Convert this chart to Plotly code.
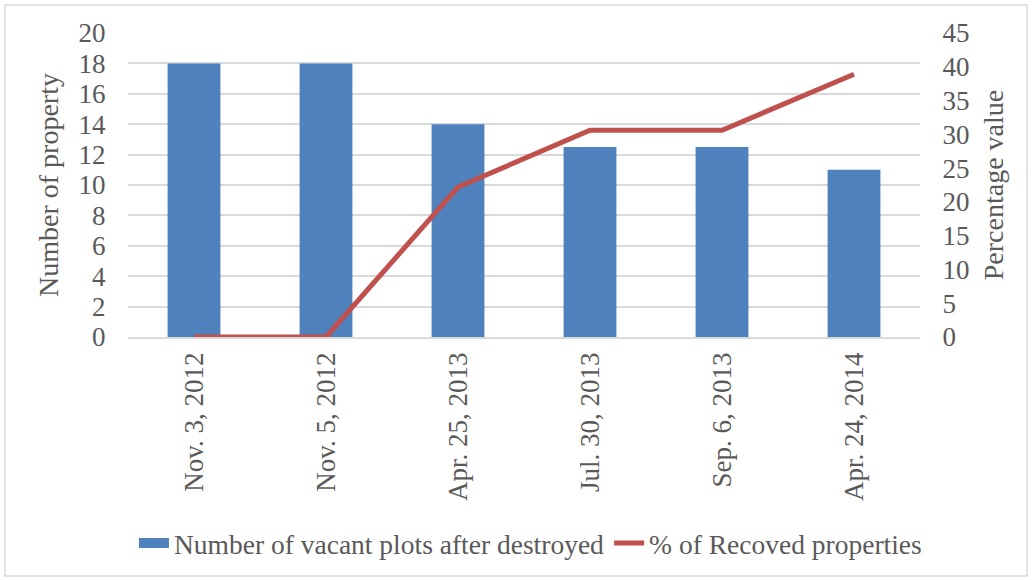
import plotly.graph_objects as go

categories = ["Nov. 3, 2012", "Nov. 5, 2012", "Apr. 25, 2013", "Jul. 30, 2013", "Sep. 6, 2013", "Apr. 24, 2014"]
vacant_plots = [18, 18, 14, 12.5, 12.5, 11]
recovered_pct = [0, 0, 22.2, 30.6, 30.6, 38.9]
left_ticks = list(range(0, 21, 2))
right_ticks = list(range(0, 46, 5))

FONT = "Liberation Serif, Times New Roman, serif"
TXT = "#595959"
FS = 27
BLUE = "#4F81BD"
RED = "#C0504D"
BAR_NAME = "Number of vacant plots after destroyed"

fig = go.Figure()
fig.add_trace(go.Bar(x=categories, y=vacant_plots, name=BAR_NAME, showlegend=False, legendgroup="bar",
                     marker=dict(color=BLUE, line=dict(width=0)), width=0.4, yaxis="y"))
# legend helper with a wide blue swatch
fig.add_trace(go.Scatter(x=[categories[0]], y=[None], name=BAR_NAME, mode="lines", legendgroup="bar",
                         line=dict(color=BLUE, width=13), yaxis="y", hoverinfo="skip"))
fig.add_trace(go.Scatter(x=categories, y=recovered_pct, name="% of Recoved properties", mode="lines",
                         line=dict(color=RED, width=5), yaxis="y2"))

fig.update_layout(
    width=1032, height=580,
    margin=dict(l=128, r=112, t=33, b=243, autoexpand=False),
    paper_bgcolor="white", plot_bgcolor="white",
    font=dict(family=FONT, color=TXT, size=FS),
    showlegend=True,
    legend=dict(orientation="h", xref="container", x=0.514, xanchor="center",
                yref="container", y=(580 - 543) / 580, yanchor="middle", bgcolor="rgba(0,0,0,0)",
                font=dict(size=27.5, color=TXT, family=FONT), traceorder="normal"),
    xaxis=dict(showgrid=False, showline=True, linecolor="#d9d9d9", linewidth=1.5, automargin=False,
               tickangle=-90, tickfont=dict(size=FS, family=FONT, color=TXT),
               ticks="outside", ticklen=3, tickcolor="rgba(0,0,0,0)"),
    yaxis=dict(range=[0, 20], tickvals=left_ticks, showgrid=True, gridcolor="#d9d9d9", gridwidth=1.5,
               zeroline=False, automargin=False, tickfont=dict(size=FS, family=FONT, color=TXT),
               ticks="outside", ticklen=16, tickcolor="rgba(0,0,0,0)",
               title=dict(text="Number of property", font=dict(size=FS + 1, family=FONT, color=TXT), standoff=11)),
    yaxis2=dict(range=[0, 45], tickvals=right_ticks, overlaying="y", side="right", showgrid=False,
                zeroline=False, automargin=False, tickfont=dict(size=FS, family=FONT, color=TXT),
                ticks="outside", ticklen=16, tickcolor="rgba(0,0,0,0)",
                title=dict(text="Percentage value", font=dict(size=FS + 1, family=FONT, color=TXT), standoff=14)),
    shapes=[dict(type="rect", xref="paper", yref="paper",
                 x0=-123/792, x1=(1027-128)/792, y0=(337-576)/304, y1=(337-5)/304,
                 line=dict(color="#d9d9d9", width=1.5), fillcolor="rgba(0,0,0,0)", layer="below")],
)

fig.write_html("out.html", config={"displayModeBar": False},
               post_script="document.body.style.margin='0px';")
